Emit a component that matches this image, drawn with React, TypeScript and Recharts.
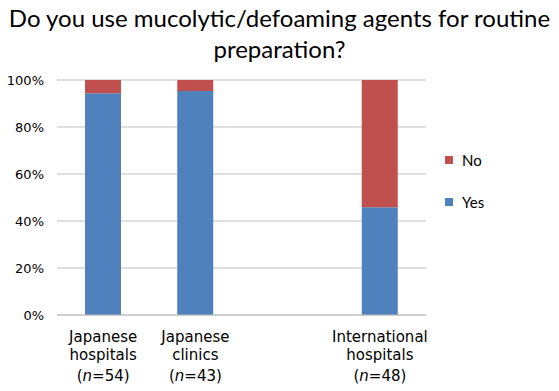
import { BarChart, Bar, XAxis, YAxis, CartesianGrid } from "recharts"

const categories = ["Japanese hospitals", "Japanese clinics", "", "International hospitals"]
const sampleSizes = ["54", "43", "", "48"]
const yesShare = [94.4, 95.3, null, 45.8]
const noShare = [5.6, 4.7, null, 54.2]
const yTicks = [0, 20, 40, 60, 80, 100]

const BLUE = "#4f81bd"
const RED = "#c0504d"
const TICK_FONT = "'DejaVu Sans', sans-serif"
const TITLE_FONT = "Lato, 'Open Sans', sans-serif"

const data = categories.map((name, i) => ({
  name,
  n: sampleSizes[i],
  yes: yesShare[i],
  no: noShare[i],
}))

const legendItems = [
  { label: "No", color: RED },
  { label: "Yes", color: BLUE },
]

const CategoryTick = ({ x, y, payload }: any) => {
  const row = data[payload.index]
  if (!row || !row.name) return null
  const words = row.name.split(" ")
  return (
    <text x={x} y={y} textAnchor="middle" fill="#000" fontSize={15} fontFamily={TICK_FONT}>
      <tspan x={x} dy={19}>{words[0]}</tspan>
      <tspan x={x} dy={18}>{words[1]}</tspan>
      <tspan x={x} dy={21}>
        (<tspan fontStyle="italic">n</tspan>={row.n})
      </tspan>
    </text>
  )
}

export default function App() {
  return (
    <div style={{ position: "absolute", left: 0, top: 0, width: 559, height: 391, background: "#fff" }}>
      <div
        style={{
          position: "absolute",
          left: 0,
          top: 2,
          width: 559,
          textAlign: "center",
          fontFamily: TITLE_FONT,
          fontSize: 24,
          lineHeight: "31px",
          color: "#000",
        }}
      >
        Do you use mucolytic/defoaming agents for routine
        <br />
        preparation?
      </div>
      <BarChart
        width={559}
        height={391}
        data={data}
        margin={{ top: 80, right: 133, bottom: 16, left: 0 }}
        barCategoryGap={28}
      >
        <CartesianGrid vertical={false} stroke="#bfbfbf" />
        <XAxis
          dataKey="name"
          height={60}
          tickLine={false}
          axisLine={{ stroke: "#bfbfbf" }}
          tick={<CategoryTick />}
          interval={0}
        />
        <YAxis
          width={57}
          domain={[0, 100]}
          ticks={yTicks}
          tickFormatter={(v) => `${v}%`}
          tickLine={false}
          axisLine={false}
          tickMargin={7}
          tick={{ fill: "#000", fontSize: 13, fontFamily: TICK_FONT }}
        />
        <Bar dataKey="yes" stackId="a" fill={BLUE} isAnimationActive={false} />
        <Bar dataKey="no" stackId="a" fill={RED} isAnimationActive={false} />
      </BarChart>
      <div style={{ position: "absolute", left: 445, top: 150, fontFamily: TITLE_FONT, fontSize: 15 }}>
        {legendItems.map((it) => (
          <div key={it.label} style={{ display: "flex", alignItems: "center", height: 20, marginBottom: 22 }}>
            <span style={{ width: 8, height: 8, background: it.color, marginRight: 9, display: "inline-block" }} />
            <span>{it.label}</span>
          </div>
        ))}
      </div>
    </div>
  )
}
